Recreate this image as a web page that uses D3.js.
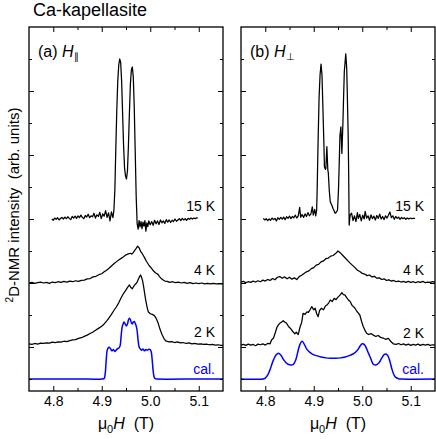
<!DOCTYPE html>
<html>
<head>
<meta charset="utf-8">
<script src="https://cdn.jsdelivr.net/npm/d3@7"></script>
<style>
  body { margin: 0; background: #fff; }
  svg { display: block; font-family: "Liberation Sans", Arial, sans-serif; }
  text { white-space: pre; }
</style>
</head>
<body>
<svg id="chart" width="436" height="439"></svg>
<script>
// [field (T), intensity (arb.)] — intensity relative to each trace's own baseline
const a15K = [
  [4.797,0.00],[4.800,-0.04],[4.803,0.03],[4.806,-0.01],[4.809,0.04],[4.812,-0.03],[4.815,0.02],[4.818,0.05],
  [4.821,0.00],[4.824,0.06],[4.827,0.01],[4.830,0.07],[4.833,0.02],[4.836,-0.02],[4.839,0.08],[4.842,0.03],
  [4.845,0.09],[4.848,0.02],[4.851,0.10],[4.854,0.04],[4.857,0.12],[4.860,0.05],[4.863,0.01],[4.866,0.11],
  [4.869,0.06],[4.872,0.15],[4.875,0.04],[4.878,0.10],[4.881,0.07],[4.884,0.18],[4.887,0.03],[4.890,0.13],
  [4.893,0.08],[4.896,0.21],[4.899,0.01],[4.902,0.16],[4.905,0.09],[4.908,0.26],[4.911,0.05],[4.914,0.19],
  [4.917,-0.06],[4.920,0.22],[4.923,0.04],[4.925,0.26],
  [4.927,0.9],[4.929,2.2],[4.931,3.4],[4.933,4.3],[4.935,4.8],[4.937,5.0],[4.939,4.9],[4.941,4.3],
  [4.943,3.3],[4.945,2.3],[4.947,1.6],[4.949,1.35],[4.951,1.25],[4.953,1.5],[4.955,2.3],[4.957,3.3],
  [4.959,4.2],[4.961,4.65],[4.963,4.75],[4.965,4.45],[4.967,3.5],[4.969,2.1],[4.971,0.7],[4.973,-0.15],
  [4.975,-0.32],[4.977,-0.05],[4.979,-0.25],[4.981,-0.08],[4.983,-0.30],[4.985,-0.10],[4.987,-0.22],[4.989,-0.05],
  [4.991,-0.38],[4.993,-0.12],[4.995,-0.24],[4.997,-0.06],[5.000,-0.18],[5.003,-0.08],[5.006,-0.20],[5.009,-0.04],
  [5.012,-0.15],[5.015,-0.06],[5.018,-0.17],[5.021,-0.03],[5.024,-0.12],[5.027,-0.06],[5.030,-0.14],[5.033,-0.02],
  [5.036,-0.10],[5.039,-0.03],[5.042,-0.11],[5.045,-0.04],[5.048,-0.08],[5.051,0.00],[5.054,-0.07],[5.057,-0.03],
  [5.060,0.01],[5.063,-0.05],[5.066,0.02],[5.069,-0.03],[5.072,0.01],[5.075,-0.04],[5.078,0.02],[5.081,-0.01],
  [5.084,0.03],[5.087,0.00],[5.090,0.03],[5.093,0.01],[5.096,0.04],[5.098,0.03]
];
const a4K = [
  [4.750,0.00],[4.756,0.02],[4.762,-0.01],[4.768,0.01],[4.774,0.03],[4.780,0.00],[4.786,0.02],[4.792,-0.01],
  [4.798,0.03],[4.804,0.01],[4.810,0.04],[4.816,0.02],[4.822,0.05],[4.828,0.03],[4.834,0.06],[4.840,0.04],
  [4.846,0.07],[4.852,0.05],[4.858,0.08],[4.864,0.09],[4.870,0.13],[4.876,0.14],[4.882,0.19],[4.888,0.21],
  [4.894,0.26],[4.900,0.29],[4.905,0.35],[4.910,0.40],[4.915,0.46],[4.920,0.53],[4.925,0.60],[4.930,0.66],
  [4.935,0.72],[4.940,0.77],[4.945,0.82],[4.950,0.88],[4.955,0.91],[4.959,0.93],[4.962,0.90],[4.965,0.95],
  [4.968,1.02],[4.971,1.08],[4.974,1.15],[4.977,1.10],[4.980,0.99],[4.983,0.93],[4.986,0.85],[4.989,0.77],
  [4.992,0.68],[4.995,0.61],[4.998,0.54],[5.002,0.47],[5.006,0.39],[5.010,0.33],[5.013,0.30],[5.016,0.27],
  [5.019,0.20],[5.022,0.15],[5.026,0.10],[5.030,0.06],[5.035,0.05],[5.040,0.02],[5.046,0.04],[5.052,0.01],
  [5.058,0.03],[5.064,0.00],[5.070,0.02],[5.076,-0.01],[5.082,0.01],[5.088,-0.02],[5.094,0.00],[5.100,-0.02],
  [5.106,0.00],[5.112,-0.03],[5.118,-0.01],[5.124,-0.03],[5.130,-0.01],[5.136,-0.03],[5.142,-0.02],[5.150,-0.03]
];
const a2K = [
  [4.750,0.00],[4.756,-0.02],[4.762,0.01],[4.768,-0.01],[4.774,0.02],[4.780,0.01],[4.786,0.03],[4.792,0.02],
  [4.798,0.05],[4.804,0.04],[4.810,0.06],[4.816,0.05],[4.822,0.08],[4.828,0.07],[4.834,0.10],[4.840,0.12],
  [4.846,0.13],[4.852,0.17],[4.858,0.19],[4.864,0.23],[4.870,0.27],[4.876,0.32],[4.882,0.37],[4.888,0.43],
  [4.894,0.49],[4.900,0.55],[4.905,0.62],[4.910,0.71],[4.915,0.81],[4.920,0.92],[4.925,1.04],[4.930,1.15],
  [4.935,1.28],[4.940,1.44],[4.944,1.55],[4.948,1.64],[4.951,1.71],[4.954,1.78],[4.957,1.84],[4.960,1.76],
  [4.963,1.72],[4.966,1.80],[4.969,1.86],[4.972,1.90],[4.975,2.00],[4.978,2.10],[4.980,2.15],[4.982,2.08],
  [4.984,1.98],[4.986,1.82],[4.988,1.62],[4.990,1.42],[4.993,1.18],[4.996,1.00],[5.000,0.94],[5.004,0.92],
  [5.008,0.89],[5.012,0.80],[5.016,0.66],[5.020,0.46],[5.024,0.30],[5.028,0.17],[5.032,0.09],[5.038,0.06],
  [5.044,0.07],[5.050,0.04],[5.056,0.06],[5.062,0.03],[5.068,0.04],[5.074,0.01],[5.080,0.03],[5.086,0.00],
  [5.092,0.01],[5.098,-0.01],[5.104,0.00],[5.110,-0.02],[5.116,-0.01],[5.122,-0.03],[5.128,-0.02],[5.134,-0.04],
  [5.140,-0.03],[5.146,-0.05],[5.150,-0.05]
];
const aCal = [
  [4.750,0],[4.800,0],[4.850,0],[4.900,0],[4.905,0.02],[4.907,0.15],[4.909,0.55],[4.911,0.88],[4.913,0.97],
  [4.915,0.99],[4.918,0.95],[4.921,0.88],[4.924,0.92],[4.927,0.86],[4.930,0.91],[4.933,0.95],[4.936,0.98],
  [4.938,1.05],[4.940,1.35],[4.942,1.62],[4.944,1.72],[4.946,1.78],[4.949,1.70],[4.951,1.66],[4.953,1.72],
  [4.955,1.84],[4.957,1.90],[4.959,1.86],[4.961,1.76],[4.963,1.72],[4.965,1.78],[4.967,1.80],[4.969,1.74],
  [4.971,1.66],[4.973,1.50],[4.975,1.20],[4.977,1.00],[4.979,0.95],[4.982,0.90],[4.985,0.94],[4.988,0.88],
  [4.991,0.92],[4.994,0.90],[4.997,0.93],[5.000,0.92],[5.002,0.85],[5.004,0.60],[5.006,0.25],[5.008,0.06],
  [5.010,0.01],[5.015,0],[5.100,0],[5.150,0]
];

const b15K = [
  [4.796,0.02],[4.799,-0.03],[4.802,0.01],[4.805,-0.05],[4.808,0.00],[4.811,-0.04],[4.814,0.03],[4.817,-0.02],
  [4.820,0.02],[4.823,-0.06],[4.826,0.04],[4.829,-0.01],[4.832,0.05],[4.835,0.00],[4.838,0.06],[4.841,-0.02],
  [4.844,0.07],[4.847,0.02],[4.850,0.09],[4.853,0.01],[4.856,0.08],[4.859,0.04],[4.862,0.12],[4.865,0.03],
  [4.868,0.10],[4.871,0.36],[4.873,0.06],[4.876,0.14],[4.879,0.05],[4.882,0.16],[4.885,0.08],[4.888,0.20],
  [4.891,0.10],[4.894,0.15],[4.897,0.38],[4.899,0.12],[4.902,0.30],[4.904,0.10],[4.906,0.28],
  [4.907,0.9],[4.909,2.47],[4.911,3.8],[4.913,4.5],[4.915,4.84],[4.917,4.5],[4.919,3.4],[4.921,2.3],
  [4.922,1.63],[4.924,1.55],[4.925,1.58],[4.927,2.26],[4.928,1.9],[4.929,1.53],[4.930,1.45],[4.932,0.9],
  [4.934,0.54],[4.937,0.44],[4.940,0.32],[4.944,0.18],[4.947,0.22],[4.949,0.28],[4.951,0.91],[4.953,2.0],
  [4.954,2.6],[4.956,2.88],[4.958,2.05],[4.960,2.94],[4.961,3.51],[4.963,4.6],[4.966,5.16],[4.968,4.7],
  [4.969,4.03],[4.971,2.6],[4.972,1.43],[4.973,-0.19],[4.975,0.12],[4.978,0.18],
  [4.981,-0.05],[4.984,0.10],[4.987,-0.08],[4.990,0.20],[4.992,0.02],[4.995,0.14],[4.998,-0.06],[5.001,0.12],
  [5.004,0.00],[5.006,0.24],[5.009,0.03],[5.012,0.10],[5.015,-0.04],[5.018,0.13],[5.021,0.01],[5.024,0.09],
  [5.027,-0.03],[5.030,0.11],[5.033,0.02],[5.036,0.15],[5.039,0.00],[5.042,0.08],[5.045,-0.02],[5.048,0.10],
  [5.051,0.03],[5.054,0.12],[5.057,0.22],[5.060,0.04],[5.063,0.10],[5.066,-0.01],[5.069,0.08],[5.072,0.02],
  [5.075,0.06],[5.078,-0.01],[5.081,0.05],[5.084,0.01],[5.087,0.04],[5.090,-0.01],[5.093,0.03],[5.096,0.00],
  [5.099,0.03],[5.102,0.01],[5.105,0.02],[5.109,0.02]
];
const b4K = [
  [4.750,0.03],[4.755,0.05],[4.760,0.01],[4.765,0.04],[4.770,0.02],[4.775,0.06],[4.780,0.03],[4.785,0.07],
  [4.790,0.04],[4.795,0.09],[4.800,0.06],[4.805,0.11],[4.810,0.08],[4.815,0.14],[4.820,0.10],[4.825,0.18],
  [4.830,0.20],[4.835,0.15],[4.840,0.19],[4.845,0.13],[4.850,0.18],[4.855,0.12],[4.860,0.16],[4.865,0.11],
  [4.870,0.20],[4.875,0.24],[4.880,0.30],[4.885,0.35],[4.890,0.38],[4.895,0.45],[4.900,0.48],[4.905,0.56],
  [4.910,0.58],[4.915,0.66],[4.920,0.69],[4.925,0.76],[4.930,0.78],[4.935,0.84],[4.940,0.86],[4.945,0.92],
  [4.950,1.00],[4.955,0.94],[4.960,0.86],[4.965,0.78],[4.970,0.70],[4.975,0.62],[4.980,0.55],[4.985,0.48],
  [4.990,0.40],[4.995,0.36],[5.000,0.30],[5.005,0.28],[5.010,0.23],[5.015,0.25],[5.020,0.19],[5.025,0.21],
  [5.030,0.15],[5.035,0.16],[5.040,0.11],[5.045,0.13],[5.050,0.08],[5.055,0.10],[5.060,0.06],[5.065,0.08],
  [5.070,0.04],[5.075,0.06],[5.080,0.03],[5.085,0.05],[5.090,0.02],[5.095,0.05],[5.100,0.02],[5.105,0.04],
  [5.110,0.01],[5.115,0.04],[5.120,0.02],[5.125,0.05],[5.130,0.01],[5.135,0.03],[5.140,0.02],[5.145,0.04],
  [5.150,0.03]
];
const b2K = [
  [4.750,0.00],[4.755,0.02],[4.760,-0.01],[4.765,0.03],[4.770,0.00],[4.775,0.02],[4.780,-0.02],[4.785,0.03],
  [4.790,0.01],[4.795,0.04],[4.800,0.00],[4.805,0.05],[4.810,0.04],[4.813,0.16],[4.817,0.22],[4.821,0.40],
  [4.824,0.55],[4.827,0.63],[4.830,0.68],[4.834,0.72],[4.837,0.76],[4.840,0.72],[4.844,0.68],[4.848,0.58],
  [4.852,0.52],[4.856,0.44],[4.861,0.35],[4.864,0.40],[4.868,0.33],[4.872,0.58],[4.875,0.70],[4.878,0.99],
  [4.882,0.96],[4.886,1.04],[4.889,1.02],[4.893,1.12],[4.896,1.20],[4.900,1.10],[4.903,1.15],[4.906,0.98],
  [4.909,0.89],[4.912,1.08],[4.916,1.15],[4.920,1.10],[4.924,1.22],[4.927,1.25],[4.931,1.32],[4.934,1.41],
  [4.938,1.36],[4.942,1.46],[4.946,1.42],[4.950,1.50],[4.954,1.56],[4.958,1.64],[4.961,1.58],[4.964,1.57],
  [4.968,1.48],[4.972,1.40],[4.975,1.36],[4.979,1.24],[4.982,1.20],[4.985,1.15],[4.989,1.05],[4.992,1.00],
  [4.995,0.94],[4.999,0.72],[5.002,0.58],[5.006,0.45],[5.009,0.37],[5.013,0.33],[5.018,0.36],[5.023,0.31],
  [5.028,0.27],[5.033,0.30],[5.038,0.24],[5.043,0.22],[5.048,0.18],[5.054,0.21],[5.059,0.11],[5.064,0.04],
  [5.070,0.02],[5.075,0.05],[5.080,0.01],[5.085,0.04],[5.090,0.00],[5.095,0.03],[5.100,-0.01],[5.105,0.02],
  [5.110,0.00],[5.115,0.03],[5.120,-0.01],[5.125,0.02],[5.130,0.00],[5.135,0.02],[5.140,-0.01],[5.145,0.01],
  [5.150,0.00]
];
const bCal = [
  [4.750,0],[4.795,0],[4.800,0.03],[4.805,0.12],[4.810,0.30],[4.815,0.52],[4.820,0.70],[4.824,0.78],
  [4.828,0.80],[4.832,0.75],[4.838,0.60],[4.845,0.48],[4.852,0.44],[4.858,0.46],[4.863,0.60],[4.868,0.90],
  [4.872,1.10],[4.876,1.18],[4.880,1.10],[4.885,0.95],[4.890,0.86],[4.897,0.78],[4.905,0.73],[4.915,0.69],
  [4.925,0.66],[4.935,0.65],[4.945,0.65],[4.955,0.66],[4.965,0.69],[4.975,0.74],[4.983,0.80],[4.990,0.90],
  [4.996,1.04],[5.000,1.10],[5.004,1.08],[5.008,0.98],[5.013,0.80],[5.018,0.62],[5.023,0.46],[5.028,0.44],
  [5.034,0.50],[5.040,0.65],[5.045,0.76],[5.049,0.78],[5.053,0.72],[5.057,0.55],[5.061,0.32],[5.065,0.14],
  [5.069,0.05],[5.075,0.01],[5.080,0],[5.150,0]
];

const traceLabels = ['15 K', '4 K', '2 K', 'cal.'];
const offsetsA = [4, 2, 0.1, -1];   // vertical stacking of the traces
const offsetsB = [4, 2, 0.06, -1];
const fieldDomain = [4.75, 5.15];
const fieldMajor = [4.8, 4.9, 5.0, 5.1];
const fieldMinor = [4.85, 4.95, 5.05];
const yMajor = [0, 2, 4, 6, 8];
const yMinor = [-1, 1, 3, 5, 7, 9];

const W = 436, H = 439;
const plotTop = 27, plotBottom = 391;
const labelLift = [0.25, 0.25, 0.22, 0.15];

const panels = [
  { tag: '(a)', sub: '\u2225', left: 29, right: 223, traces: [a15K, a4K, a2K, aCal], offsets: offsetsA, labelPad: 8 },
  { tag: '(b)', sub: '\u22A5', left: 241, right: 435, traces: [b15K, b4K, b2K, bCal], offsets: offsetsB, labelPad: 11 }
];

const svg = d3.select('#chart');
svg.append('rect').attr('width', W).attr('height', H).attr('fill', '#fff');

const y = d3.scaleLinear().domain([-1.375, 10]).range([plotBottom, plotTop]);

svg.append('text')
  .attr('x', 33).attr('y', 16)
  .attr('font-size', 18)
  .text('Ca-kapellasite');

// y label
const yl = svg.append('text')
  .attr('transform', 'translate(19,205) rotate(-90)')
  .attr('text-anchor', 'middle')
  .attr('font-size', 15);
yl.append('tspan').attr('font-size', 10).attr('dy', -6).text('2');
yl.append('tspan').attr('dy', 6).text('D-NMR intensity  (arb. units)');

panels.forEach(p => {
  const x = d3.scaleLinear().domain(fieldDomain).range([p.left, p.right]);
  const g = svg.append('g');

  p.traces.forEach((tr, i) => {
    const isCal = i === 3;
    const line = d3.line()
      .x(d => x(d[0]))
      .y(d => y(d[1] + p.offsets[i]))
      .curve(isCal ? d3.curveCatmullRom.alpha(0.5) : d3.curveLinear);
    g.append('path').datum(tr)
      .attr('d', line)
      .attr('fill', 'none')
      .attr('stroke', isCal ? '#0000ff' : '#000')
      .attr('stroke-width', isCal ? 1.5 : 1.25)
      .attr('stroke-linejoin', 'round');

    g.append('text')
      .attr('x', p.right - p.labelPad)
      .attr('y', y(p.offsets[i] + labelLift[i]))
      .attr('text-anchor', 'end')
      .attr('font-size', 14)
      .attr('fill', isCal ? '#0000ff' : '#000')
      .text(traceLabels[i]);
  });

  // axes, ticks pointing inward
  const fixAxis = sel => {
    sel.attr('font-family', null).attr('font-size', 14);
    sel.select('.domain').remove();
  };
  const xb = d3.axisBottom(x).tickValues(fieldMajor).tickSize(-5).tickPadding(5).tickFormat(d3.format('.1f'));
  g.append('g').attr('transform', `translate(0,${plotBottom})`).call(xb).call(fixAxis);
  g.append('g').attr('transform', `translate(0,${plotBottom})`)
    .call(d3.axisBottom(x).tickValues(fieldMinor).tickSize(-3).tickFormat('')).call(fixAxis);
  g.append('g').attr('transform', `translate(0,${plotTop})`)
    .call(d3.axisTop(x).tickValues(fieldMajor).tickSize(-5).tickFormat('')).call(fixAxis);
  g.append('g').attr('transform', `translate(0,${plotTop})`)
    .call(d3.axisTop(x).tickValues(fieldMinor).tickSize(-3).tickFormat('')).call(fixAxis);
  [[d3.axisLeft, p.left], [d3.axisRight, p.right]].forEach(([ax, pos]) => {
    g.append('g').attr('transform', `translate(${pos},0)`)
      .call(ax(y).tickValues(yMajor).tickSize(-5).tickFormat('')).call(fixAxis);
    g.append('g').attr('transform', `translate(${pos},0)`)
      .call(ax(y).tickValues(yMinor).tickSize(-3).tickFormat('')).call(fixAxis);
  });

  g.append('rect')
    .attr('x', p.left).attr('y', plotTop)
    .attr('width', p.right - p.left).attr('height', plotBottom - plotTop)
    .attr('fill', 'none').attr('stroke', '#000').attr('stroke-width', 1.3);

  // panel tag
  const pl = g.append('text').attr('x', p.left + 9).attr('y', 57).attr('font-size', 16);
  pl.append('tspan').text(p.tag + ' ');
  pl.append('tspan').attr('font-style', 'italic').text('H');
  pl.append('tspan')
    .attr('font-family', '"DejaVu Sans", sans-serif')
    .attr('font-size', 10).attr('dy', 3).attr('dx', 0.5)
    .attr('fill', '#000')
    .text(p.sub);

  // x label
  const xl = g.append('text')
    .attr('x', (p.left + p.right) / 2).attr('y', 429)
    .attr('text-anchor', 'middle').attr('font-size', 16);
  xl.append('tspan').text('\u03BC');
  xl.append('tspan').attr('font-size', 11).attr('dy', 4).text('0');
  xl.append('tspan').attr('dy', -4).attr('font-style', 'italic').text('H');
  xl.append('tspan').text('  (T)');
});
</script>
</body>
</html>
